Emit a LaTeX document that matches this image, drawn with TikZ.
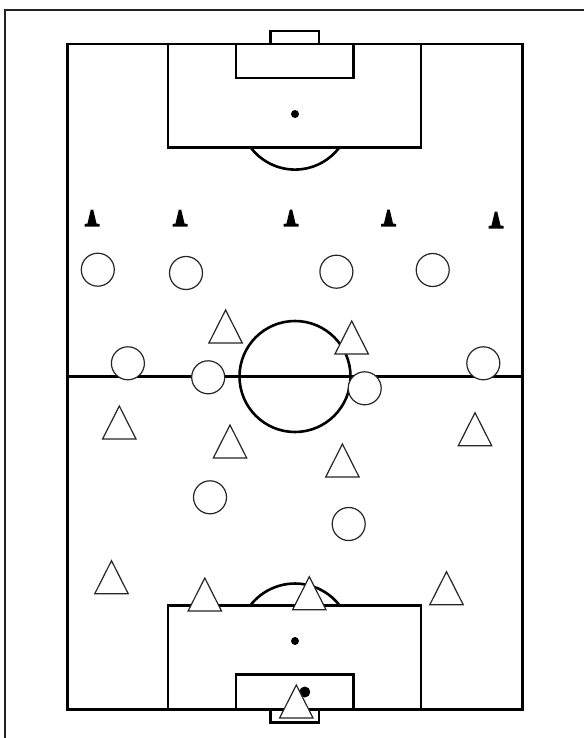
\documentclass[tikz,border=0pt]{standalone}
\usepackage{tikz}
\definecolor{pitchink}{HTML}{000000}
\definecolor{frameink}{HTML}{222222}
\tikzset{
  pitchline/.style={draw=pitchink,line width=2.6pt},
  player/.style={draw=pitchink!85,fill=white,line width=1.2pt},
}
\begin{document}
\begin{tikzpicture}[x=1pt,y=-1pt]
  \useasboundingbox (0,0) rectangle (583,738);
  \fill[white] (0,0) rectangle (583,738);
  \draw[frameink,line width=1.6pt] (4.8,740) -- (4.8,10.3) -- (585,10.3);
  % pitch
  \draw[pitchline] (67.5,44) rectangle (522.5,709.5);
  \draw[pitchline] (67.5,376.7) -- (522.5,376.7);
  \draw[pitchline] (295,376.5) circle (55.5);
  % top end
  \draw[pitchline] (270.5,44) |- (319,31) -- (319,44);
  \draw[pitchline] (168,44) rectangle (421,147.5);
  \draw[pitchline] (236,44) rectangle (353.5,78);
  \fill[pitchink] (295,114) circle (4);
  \draw[pitchline] (250.7,147.5) arc[start angle=217,end angle=323,radius=55.5pt];
  % bottom end
  \draw[pitchline] (270.5,709.5) |- (319,722.7) -- (319,709.5);
  \draw[pitchline] (168,709.5) rectangle (421,605.7);
  \draw[pitchline] (236,709.5) rectangle (353.5,674.7);
  \fill[pitchink] (295,641) circle (4);
  \draw[pitchline] (250.1,605.7) arc[start angle=142.6,end angle=37.4,radius=56.5pt];
  \fill[pitchink] (304.8,692) circle (5.5);
  % cones
  \foreach \x/\y in {92/226.5,180/226.5,291/226.5,388.5/226.5,496/228.5}{
    \fill[pitchink] (\x-7.5,\y) -- (\x-7.5,\y-2.5) -- (\x-4.5,\y-3) -- (\x-1.2,\y-17) -- (\x+1.2,\y-17) -- (\x+4.5,\y-3) -- (\x+7.5,\y-2.5) -- (\x+7.5,\y) -- cycle;
  }
  % circles
  \foreach \x/\y in {97.8/269.7,186/273,336.4/271.7,432.7/270,127.9/363.3,208.2/377.3,364.7/388.3,483.3/363.3,210/497.3,348.7/524}{
    \draw[player] (\x,\y) circle (16.5);
  }
  % triangles
  \foreach \x/\y in {225.6/310,351.7/321,119.3/406,475/412.7,230/425,342.4/444,111.5/560.7,204.8/578,309.3/576.7,446.5/571.7,296.3/685}{
    \draw[player] (\x,\y) -- (\x+16.7,\y+33) -- (\x-16.7,\y+33) -- cycle;
  }
\end{tikzpicture}
\end{document}
